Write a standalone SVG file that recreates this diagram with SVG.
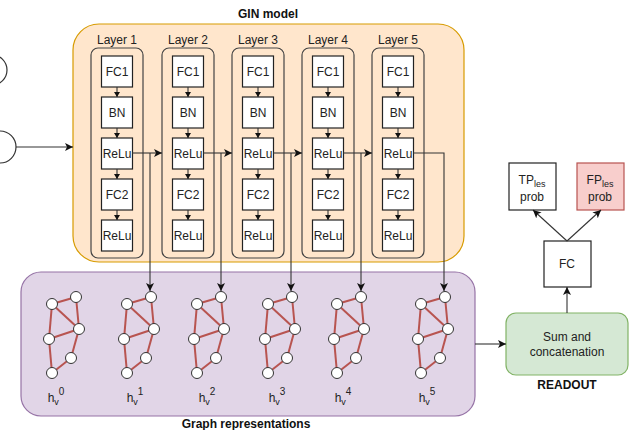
<svg xmlns="http://www.w3.org/2000/svg" width="629" height="430" viewBox="0 0 629 430">
<style>
text{font-family:"Liberation Sans",Arial,sans-serif;font-size:12px;fill:#222;text-anchor:middle}
.b{font-weight:bold;fill:#111}
.box{fill:#fff;stroke:#222;stroke-width:1.2}
.layer{fill:none;stroke:#444;stroke-width:1.2}
.ln{fill:none;stroke:#333;stroke-width:1.1}
.e{stroke:#b85450;stroke-width:2}
.nd{fill:#fff;stroke:#333;stroke-width:1}
.sm{font-size:9px}
.sp{font-size:10px}
</style>
<defs>
<marker id="a" markerUnits="userSpaceOnUse" markerWidth="10" markerHeight="10" refX="8" refY="4" orient="auto">
<path d="M0,0 L8,4 L0,8 L2,4 Z" fill="#111"/>
</marker>
<marker id="s" markerUnits="userSpaceOnUse" markerWidth="8" markerHeight="8" refX="5" refY="3" orient="auto">
<path d="M0,0 L5,3 L0,6 Z" fill="#111"/>
</marker>
<g id="graph">
<line class="e" x1="52" y1="304" x2="76" y2="297"/>
<line class="e" x1="52" y1="304" x2="79" y2="329"/>
<line class="e" x1="52" y1="304" x2="49" y2="339"/>
<line class="e" x1="76" y1="297" x2="79" y2="329"/>
<line class="e" x1="49" y1="339" x2="79" y2="329"/>
<line class="e" x1="49" y1="339" x2="52" y2="373"/>
<line class="e" x1="79" y1="329" x2="71" y2="358"/>
<line class="e" x1="71" y1="358" x2="52" y2="373"/>
<circle class="nd" cx="76" cy="297" r="5.5"/>
<circle class="nd" cx="52" cy="304" r="5.5"/>
<circle class="nd" cx="79" cy="329" r="5.5"/>
<circle class="nd" cx="49" cy="339" r="5.5"/>
<circle class="nd" cx="71" cy="358" r="5.5"/>
<circle class="nd" cx="52" cy="373" r="5.5"/>
</g>
<g id="layer">
<rect class="layer" x="0" y="48" width="52" height="210" rx="7"/>
<rect class="box" x="10.5" y="56" width="31" height="31"/>
<rect class="box" x="10.5" y="97" width="31" height="31"/>
<rect class="box" x="10.5" y="138" width="31" height="31"/>
<rect class="box" x="10.5" y="179" width="31" height="31"/>
<rect class="box" x="10.5" y="220" width="31" height="31"/>
<text x="26" y="76">FC1</text>
<text x="26" y="117">BN</text>
<text x="26" y="158">ReLu</text>
<text x="26" y="199">FC2</text>
<text x="26" y="240">ReLu</text>
<line class="ln" x1="26" y1="87" x2="26" y2="97" marker-end="url(#s)"/>
<line class="ln" x1="26" y1="128" x2="26" y2="138" marker-end="url(#s)"/>
<line class="ln" x1="26" y1="169" x2="26" y2="179" marker-end="url(#s)"/>
<line class="ln" x1="26" y1="210" x2="26" y2="220" marker-end="url(#s)"/>
</g>
</defs>

<g id="inputs">
<circle cx="-8" cy="70" r="15" fill="#fff" stroke="#333" stroke-width="1.2"/>
<circle cx="0" cy="147" r="16" fill="#fff" stroke="#333" stroke-width="1.2"/>
</g>

<g id="gin-model">
<rect x="73" y="24" width="391" height="238" rx="26" fill="#ffe6cc" stroke="#d79b00" stroke-width="1.2"/>
<text class="b" x="268" y="18">GIN model</text>
</g>

<g id="graph-representations">
<rect x="21" y="272" width="454" height="144" rx="20" fill="#e1d5e7" stroke="#9673a6" stroke-width="1.2"/>
<text class="b" x="246" y="428">Graph representations</text>
</g>

<g id="layer1"><use href="#layer" x="91"/><text x="117" y="44">Layer 1</text></g>
<g id="layer2"><use href="#layer" x="162"/><text x="188" y="44">Layer 2</text></g>
<g id="layer3"><use href="#layer" x="232"/><text x="258" y="44">Layer 3</text></g>
<g id="layer4"><use href="#layer" x="302"/><text x="328" y="44">Layer 4</text></g>
<g id="layer5"><use href="#layer" x="372"/><text x="398" y="44">Layer 5</text></g>

<g id="h0"><use href="#graph"/><text x="56" y="402">h<tspan class="sm" dy="3">v</tspan><tspan class="sp" dy="-10">0</tspan></text></g>
<g id="h1"><use href="#graph" x="75"/><text x="135" y="402">h<tspan class="sm" dy="3">v</tspan><tspan class="sp" dy="-10">1</tspan></text></g>
<g id="h2"><use href="#graph" x="145"/><text x="207" y="402">h<tspan class="sm" dy="3">v</tspan><tspan class="sp" dy="-10">2</tspan></text></g>
<g id="h3"><use href="#graph" x="216"/><text x="277" y="402">h<tspan class="sm" dy="3">v</tspan><tspan class="sp" dy="-10">3</tspan></text></g>
<g id="h4"><use href="#graph" x="285"/><text x="343" y="402">h<tspan class="sm" dy="3">v</tspan><tspan class="sp" dy="-10">4</tspan></text></g>
<g id="h5"><use href="#graph" x="369"/><text x="427" y="402">h<tspan class="sm" dy="3">v</tspan><tspan class="sp" dy="-10">5</tspan></text></g>

<g id="readout">
<rect x="506" y="313" width="122" height="62" rx="10" fill="#d5e8d4" stroke="#82b366" stroke-width="1.2"/>
<text x="567" y="341">Sum and</text>
<text x="567" y="356">concatenation</text>
<text class="b" x="567" y="389">READOUT</text>
</g>

<g id="fc">
<rect class="box" x="544" y="241" width="47" height="46"/>
<text x="567" y="268">FC</text>
</g>

<g id="tp">
<rect class="box" x="509" y="163" width="47" height="47"/>
<text x="532" y="184">TP<tspan class="sm" dy="3">les</tspan></text>
<text x="532" y="201">prob</text>
</g>

<g id="fp">
<rect x="577" y="163" width="47" height="47" fill="#f8cecc" stroke="#b85450" stroke-width="1.2"/>
<text x="600" y="184">FP<tspan class="sm" dy="3">les</tspan></text>
<text x="600" y="201">prob</text>
</g>

<g id="connectors">
<line class="ln" x1="16" y1="147" x2="73" y2="147" marker-end="url(#a)"/>
<line class="ln" x1="132" y1="153" x2="162" y2="153" marker-end="url(#a)"/>
<line class="ln" x1="203" y1="153" x2="232" y2="153" marker-end="url(#a)"/>
<line class="ln" x1="273" y1="153" x2="302" y2="153" marker-end="url(#a)"/>
<line class="ln" x1="343" y1="153" x2="372" y2="153" marker-end="url(#a)"/>
<line class="ln" x1="150" y1="153" x2="150" y2="291" marker-end="url(#a)"/>
<line class="ln" x1="221" y1="153" x2="221" y2="291" marker-end="url(#a)"/>
<line class="ln" x1="291" y1="153" x2="291" y2="291" marker-end="url(#a)"/>
<line class="ln" x1="361" y1="153" x2="361" y2="291" marker-end="url(#a)"/>
<polyline class="ln" points="413,153 444,153 444,291" marker-end="url(#a)"/>
<line class="ln" x1="475" y1="344" x2="506" y2="344" marker-end="url(#a)"/>
<line class="ln" x1="567" y1="313" x2="567" y2="287" marker-end="url(#a)"/>
<line class="ln" x1="567" y1="241" x2="533" y2="210" marker-end="url(#a)"/>
<line class="ln" x1="567" y1="241" x2="601" y2="210" marker-end="url(#a)"/>
</g>
</svg>
